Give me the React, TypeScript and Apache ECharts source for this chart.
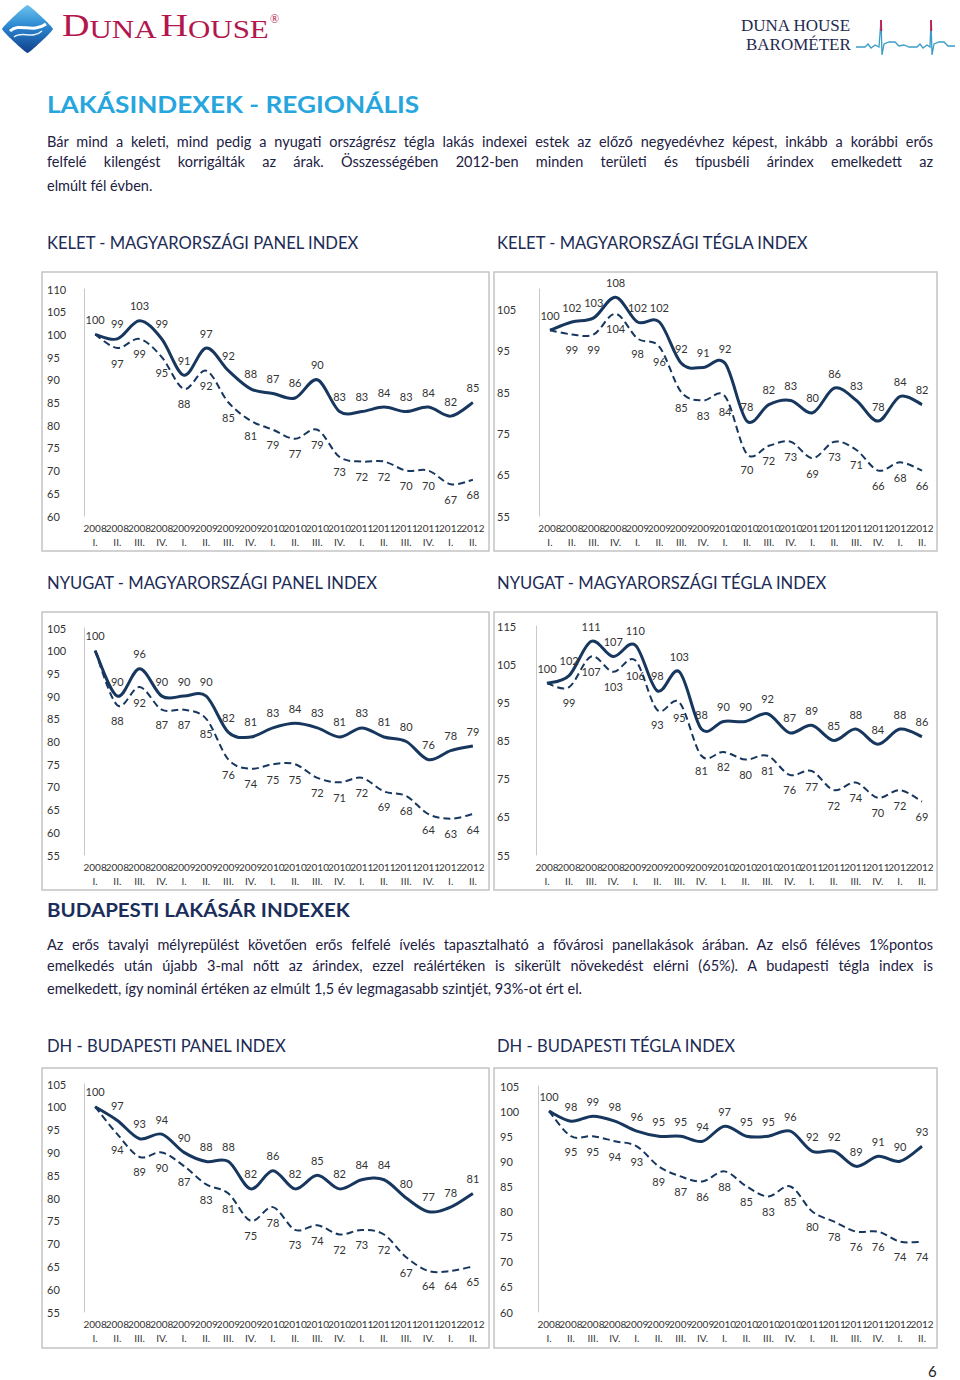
import React, { useEffect, useRef } from 'react';
import * as echarts from 'echarts';

// ---------- DATA ----------
const years = ['2008','2008','2008','2008','2009','2009','2009','2009','2010','2010','2010','2010','2011','2011','2011','2011','2012','2012'];
const quarters = ['I.','II.','III.','IV.','I.','II.','III.','IV.','I.','II.','III.','IV.','I.','II.','III.','IV.','I.','II.'];

const keletPanelSolid = [100, 99, 103, 99, 91, 97, 92, 88, 87, 86, 90, 83, 83, 84, 83, 84, 82, 85];
const keletPanelDashed = [100, 97, 99, 95, 88, 92, 85, 81, 79, 77, 79, 73, 72, 72, 70, 70, 67, 68];

const keletTeglaSolid = [100, 102, 103, 108, 102, 102, 92, 91, 92, 78, 82, 83, 80, 86, 83, 78, 84, 82];
const keletTeglaDashed = [100, 99, 99, 104, 98, 96, 85, 83, 84, 70, 72, 73, 69, 73, 71, 66, 68, 66];

const nyugatPanelSolid = [100, 90, 96, 90, 90, 90, 82, 81, 83, 84, 83, 81, 83, 81, 80, 76, 78, 79];
const nyugatPanelDashed = [100, 88, 92, 87, 87, 85, 76, 74, 75, 75, 72, 71, 72, 69, 68, 64, 63, 64];

const nyugatTeglaSolid = [100, 102, 111, 107, 110, 98, 103, 88, 90, 90, 92, 87, 89, 85, 88, 84, 88, 86];
const nyugatTeglaDashed = [100, 99, 107, 103, 106, 93, 95, 81, 82, 80, 81, 76, 77, 72, 74, 70, 72, 69];

const budaPanelSolid = [100, 97, 93, 94, 90, 88, 88, 82, 86, 82, 85, 82, 84, 84, 80, 77, 78, 81];
const budaPanelDashed = [100, 94, 89, 90, 87, 83, 81, 75, 78, 73, 74, 72, 73, 72, 67, 64, 64, 65];

const budaTeglaSolid = [100, 98, 99, 98, 96, 95, 95, 94, 97, 95, 95, 96, 92, 92, 89, 91, 90, 93];
const budaTeglaDashed = [100, 95, 95, 94, 93, 89, 87, 86, 88, 85, 83, 85, 80, 78, 76, 76, 74, 74];

const chartTitles = [
  'KELET - MAGYARORSZÁGI PANEL INDEX',
  'KELET - MAGYARORSZÁGI TÉGLA INDEX',
  'NYUGAT - MAGYARORSZÁGI PANEL INDEX',
  'NYUGAT - MAGYARORSZÁGI TÉGLA INDEX',
  'DH - BUDAPESTI PANEL INDEX',
  'DH - BUDAPESTI TÉGLA INDEX',
];

const para1 = [
  'Bár mind a keleti, mind pedig a nyugati országrész tégla lakás indexei estek az előző negyedévhez képest, inkább a korábbi erős',
  'felfelé kilengést korrigálták az árak. Összességében 2012-ben minden területi és típusbéli árindex emelkedett az',
  'elmúlt fél évben.',
];
const para2 = [
  'Az erős tavalyi mélyrepülést követően erős felfelé ívelés tapasztalható a fővárosi panellakások árában. Az első féléves 1%pontos',
  'emelkedés után újabb 3-mal nőtt az árindex, ezzel reálértéken is sikerült növekedést elérni (65%). A budapesti tégla index is',
  'emelkedett, így nominál értéken az elmúlt 1,5 év legmagasabb szintjét, 93%-ot ért el.',
];

// ---------- LAYOUT ----------
const charts = [
  { solid: keletPanelSolid, dashed: keletPanelDashed, min: 60, max: 110, step: 5, grid: [84, 289, 400, 227], labelX: 47, box: [42, 272, 447, 279], titleXY: [47, 243] },
  { solid: keletTeglaSolid, dashed: keletTeglaDashed, min: 55, max: 110, step: 10, grid: [539, 289, 394, 227], labelX: 497, box: [494, 272, 443, 279], titleXY: [497, 243] },
  { solid: nyugatPanelSolid, dashed: nyugatPanelDashed, min: 55, max: 105, step: 5, grid: [84, 628, 400, 227], labelX: 47, box: [42, 612, 447, 278], titleXY: [47, 583] },
  { solid: nyugatTeglaSolid, dashed: nyugatTeglaDashed, min: 55, max: 115, step: 10, grid: [536, 626, 397, 229], labelX: 497, box: [494, 612, 443, 278], titleXY: [497, 583] },
  { solid: budaPanelSolid, dashed: budaPanelDashed, min: 55, max: 105, step: 5, grid: [84, 1084, 400, 228], labelX: 47, box: [42, 1068, 447, 280], titleXY: [47, 1046] },
  { solid: budaTeglaSolid, dashed: budaTeglaDashed, min: 60, max: 105, step: 5, grid: [538, 1086, 395, 226], labelX: 500, box: [494, 1068, 443, 280], titleXY: [497, 1046] },
];

const NAVY = '#17375e';
const LABEL = '#333333';
const FONT = 'Lato, "Open Sans", sans-serif';
const SERIF = '"Liberation Serif", "DejaVu Serif", serif';

// Excel-like smoothed curve (Catmull-Rom through the points), built from axis coordinates
function smoothPath(pts: number[][]) {
  let d = `M${pts[0][0]},${pts[0][1]}`;
  for (let i = 0; i < pts.length - 1; i++) {
    const p0 = pts[i - 1] || pts[i];
    const p1 = pts[i];
    const p2 = pts[i + 1];
    const p3 = pts[i + 2] || pts[i + 1];
    const c1x = p1[0] + (p2[0] - p0[0]) / 6;
    const c1y = p1[1] + (p2[1] - p0[1]) / 6;
    const c2x = p2[0] - (p3[0] - p1[0]) / 6;
    const c2y = p2[1] - (p3[1] - p1[1]) / 6;
    d += ` C${c1x},${c1y} ${c2x},${c2y} ${p2[0]},${p2[1]}`;
  }
  return d;
}

function curveSeries(values: number[], i: number, dashed: boolean) {
  return {
    type: 'custom', xAxisIndex: i, yAxisIndex: i, z: dashed ? 2 : 3, silent: true,
    data: [[0, values[0]]], encode: { x: 0, y: 1 },
    renderItem: (params: any, api: any) => {
      const pts = values.map((v, j) => api.coord([j, v]));
      return {
        type: 'path',
        shape: { pathData: smoothPath(pts) },
        style: dashed
          ? { fill: 'none', stroke: NAVY, lineWidth: 2, lineDash: [7, 4] }
          : { fill: 'none', stroke: NAVY, lineWidth: 3 },
      };
    },
  };
}

function buildOption() {
  const categories = years.map((y, i) => y + '\n' + quarters[i]);
  const grid = charts.map(c => ({ left: c.grid[0], top: c.grid[1], width: c.grid[2], height: c.grid[3] }));
  const xAxis = charts.map((c, i) => ({
    type: 'category', gridIndex: i, data: categories, boundaryGap: true,
    axisLine: { show: false }, axisTick: { show: false }, splitLine: { show: false },
    axisLabel: { interval: 0, fontSize: 10, color: LABEL, lineHeight: 14, margin: 5, fontFamily: FONT },
  }));
  const yAxis = charts.map((c, i) => ({
    type: 'value', gridIndex: i, min: c.min, max: c.max, interval: 5,
    axisLine: { show: true, lineStyle: { color: '#c8c8c8', width: 1 } },
    axisTick: { show: false }, splitLine: { show: false },
    axisLabel: {
      align: 'left', margin: c.grid[0] - c.labelX, fontSize: 11, color: LABEL, fontFamily: FONT,
      formatter: (v: number) => ((v - c.min) % c.step === 0 ? String(v) : ''),
    },
  }));
  const series: any[] = [];
  charts.forEach((c, i) => {
    series.push(curveSeries(c.dashed, i, true));
    series.push(curveSeries(c.solid, i, false));
    // value labels (lines themselves are drawn by the curve series)
    series.push({
      type: 'line', xAxisIndex: i, yAxisIndex: i, z: 4, silent: true,
      data: c.dashed.map((v, j) => (j === 0 ? { value: v, label: { show: false } } : v)),
      symbol: 'circle', symbolSize: 1, itemStyle: { color: 'transparent', borderWidth: 0 },
      lineStyle: { opacity: 0, width: 0 },
      label: { show: true, position: 'bottom', distance: 9, fontSize: 11, color: LABEL, fontFamily: FONT },
    });
    series.push({
      type: 'line', xAxisIndex: i, yAxisIndex: i, z: 4, silent: true,
      data: c.solid,
      symbol: 'circle', symbolSize: 1, itemStyle: { color: 'transparent', borderWidth: 0 },
      lineStyle: { opacity: 0, width: 0 },
      label: { show: true, position: 'top', distance: 9, fontSize: 11, color: LABEL, fontFamily: FONT },
    });
  });

  const graphic: any[] = [];
  // Logo diamond
  graphic.push({
    type: 'polygon',
    shape: { points: [[27.5, 5], [53, 29], [27.5, 53], [2, 29]], smooth: 0.08 },
    style: { fill: new echarts.graphic.LinearGradient(0, 0, 0, 1, [
      { offset: 0, color: '#6cc3ee' }, { offset: 0.45, color: '#2a86cf' }, { offset: 1, color: '#123f8c' },
    ]) },
  });
  graphic.push({ type: 'bezierCurve', shape: { x1: 10, y1: 31, cpx1: 20, cpy1: 22, cpx2: 32, cpy2: 34, x2: 46, y2: 24 }, style: { stroke: '#ffffff', lineWidth: 3, fill: 'none' } });
  graphic.push({ type: 'bezierCurve', shape: { x1: 14, y1: 37, cpx1: 22, cpy1: 30, cpx2: 32, cpy2: 40, x2: 42, y2: 31 }, style: { stroke: '#e8f4fb', lineWidth: 1.5, fill: 'none' } });
  graphic.push({
    type: 'text', x: 62, y: 42, scaleX: 1.19,
    style: {
      text: '{b|D}{s|UNA} {b|H}{s|OUSE}',
      verticalAlign: 'bottom',
      rich: {
        b: { fontSize: 32, fontFamily: SERIF, fill: '#b3174d', verticalAlign: 'bottom', lineHeight: 32 },
        s: { fontSize: 26, fontFamily: SERIF, fill: '#b3174d', verticalAlign: 'bottom', lineHeight: 32 },
      },
    },
  });
  graphic.push({ type: 'text', x: 270, y: 19, style: { text: '®', fontSize: 12, fontFamily: SERIF, fill: '#b3174d', verticalAlign: 'middle' } });

  // Barometer
  graphic.push({ type: 'text', x: 741, y: 25, style: { text: 'DUNA HOUSE', fontSize: 17, fontFamily: SERIF, fill: '#1f2a4f', verticalAlign: 'middle' } });
  graphic.push({ type: 'text', x: 746, y: 44, style: { text: 'BAROMÉTER', fontSize: 17, fontFamily: SERIF, fill: '#1f2a4f', verticalAlign: 'middle' } });
  graphic.push({
    type: 'polyline',
    shape: { points: [[856, 47], [865, 47], [868, 44], [871, 48], [875, 45], [879, 47], [881, 20], [882, 55], [884, 44], [889, 42], [895, 42], [899, 46], [904, 45], [909, 47], [917, 47], [920, 44], [923, 48], [927, 45], [930, 47], [931, 20], [932, 55], [934, 44], [939, 42], [944, 42], [948, 46], [955, 46]] },
    style: { stroke: '#3a9cc6', lineWidth: 1.3, fill: 'none' },
  });
  graphic.push({ type: 'line', shape: { x1: 881, y1: 20, x2: 881.3, y2: 31 }, style: { stroke: '#c8194f', lineWidth: 1.8 } });
  graphic.push({ type: 'line', shape: { x1: 931, y1: 20, x2: 931.3, y2: 31 }, style: { stroke: '#c8194f', lineWidth: 1.8 } });

  // Headings
  graphic.push({ type: 'text', x: 47, y: 104, scaleX: 1.14, style: { text: 'LAKÁSINDEXEK - REGIONÁLIS', fontSize: 23, fontWeight: 'bold', fontFamily: FONT, fill: '#27a6de', verticalAlign: 'middle' } });
  graphic.push({ type: 'text', x: 47, y: 910, scaleX: 1.14, style: { text: 'BUDAPESTI LAKÁSÁR INDEXEK', fontSize: 18, fontWeight: 'bold', fontFamily: FONT, fill: '#1b2d5b', verticalAlign: 'middle' } });
  graphic.push({ type: 'text', x: 928, y: 1371, style: { text: '6', fontSize: 15, fontFamily: FONT, fill: '#222', verticalAlign: 'middle' } });

  charts.forEach((c, i) => {
    graphic.push({ type: 'text', x: c.titleXY[0], y: c.titleXY[1], style: { text: chartTitles[i], fontSize: 16.6, fontFamily: FONT, fill: '#1c2b55', verticalAlign: 'middle' } });
    graphic.push({ type: 'rect', shape: { x: c.box[0], y: c.box[1], width: c.box[2], height: c.box[3] }, style: { fill: 'none', stroke: '#c4c4c4', lineWidth: 1.5 }, z: -1 });
  });

  return { animation: false, backgroundColor: '#ffffff', textStyle: { fontFamily: FONT }, grid, xAxis, yAxis, series, graphic };
}

const lineStyleBase: React.CSSProperties = {
  position: 'absolute', left: 47, width: 886, height: 20, lineHeight: '20px',
  fontFamily: FONT, fontSize: 14.5, color: '#1c2143', whiteSpace: 'nowrap', textAlign: 'justify',
};

export default function App() {
  const ref = useRef<HTMLDivElement>(null);
  useEffect(() => {
    const chart = echarts.init(ref.current!, null, { renderer: 'svg' });
    chart.setOption(buildOption() as any);
    return () => chart.dispose();
  }, []);
  const p1Y = [142, 162, 186];
  const p2Y = [945, 966, 989];
  return (
    <div style={{ position: 'absolute', left: 0, top: 0, width: 960, height: 1380, background: '#fff' }}>
      <div ref={ref} style={{ position: 'absolute', left: 0, top: 0, width: 960, height: 1380 }} />
      {para1.map((t, i) => (
        <div key={'a' + i} style={{ ...lineStyleBase, top: p1Y[i] - 10, textAlignLast: i === para1.length - 1 ? 'left' : 'justify' } as any}>{t}</div>
      ))}
      {para2.map((t, i) => (
        <div key={'b' + i} style={{ ...lineStyleBase, top: p2Y[i] - 10, textAlignLast: i === para2.length - 1 ? 'left' : 'justify' } as any}>{t}</div>
      ))}
    </div>
  );
}
